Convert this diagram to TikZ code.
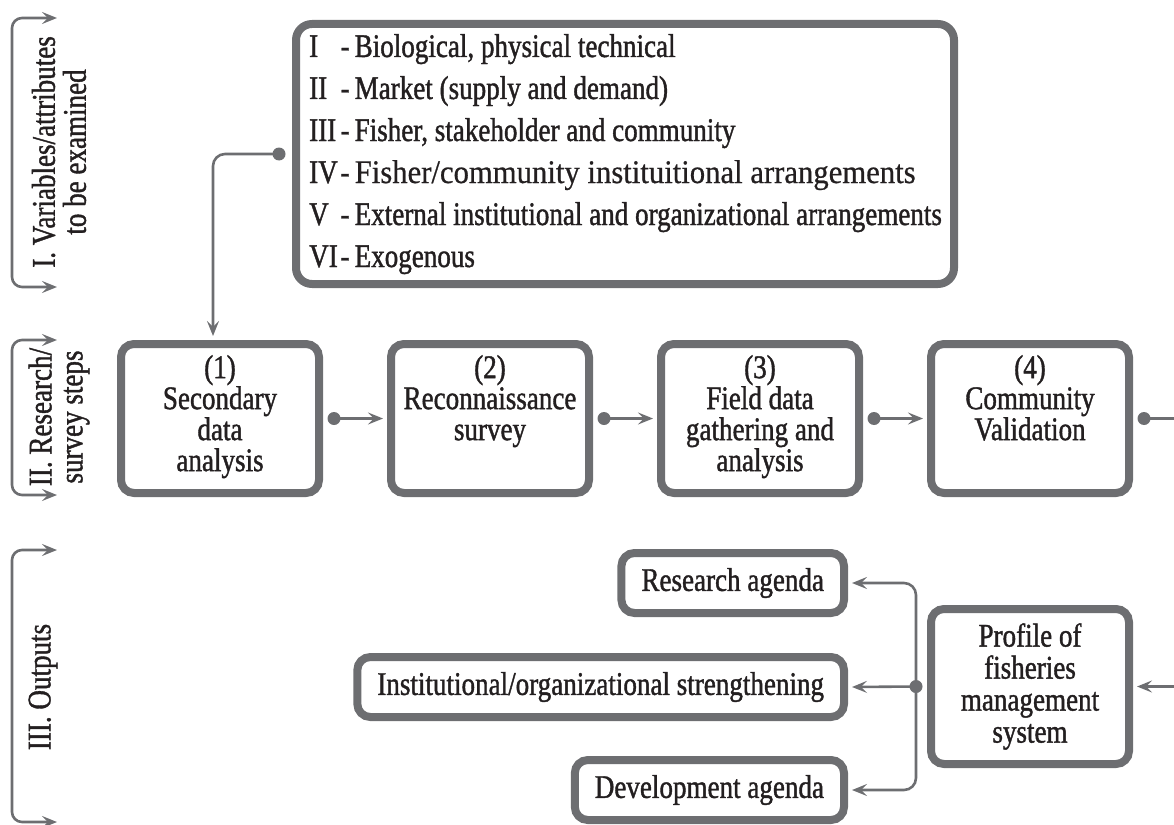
\documentclass[tikz,border=0pt]{standalone}
\usepackage{fontspec}
\setmainfont{Liberation Serif}[FakeStretch=0.82,FakeBold=1.2]
\newfontfamily\widefont{Liberation Serif}[FakeStretch=0.93,FakeBold=0.6]
\usetikzlibrary{arrows.meta,calc}
\definecolor{bordergray}{RGB}{109,110,113}
\definecolor{linegray}{RGB}{109,110,113}
\definecolor{inkcol}{RGB}{35,31,32}
\newcommand{\numlab}[1]{\makebox[31.5pt][l]{#1}-\hspace{5pt}}
\begin{document}
\begin{tikzpicture}[x=1pt,y=-1pt,
  frame/.style={draw=bordergray, line width=8pt, rounded corners=13pt, fill=white, inner sep=0pt},
  conn/.style={draw=linegray, line width=2.6pt, rounded corners=12pt},
  arr/.style={-{Stealth[length=15pt,width=12pt,inset=6pt]}},
  barr/.style={{Stealth[length=15pt,width=12pt,inset=6pt]}-{Stealth[length=15pt,width=12pt,inset=6pt]}},
  txt/.style={text=inkcol, font=\fontsize{33}{31}\selectfont, inner sep=0pt},
  dot/.style={fill=linegray}
]
\useasboundingbox (0,0) rectangle (1174,824);

% ---- left brackets and labels
\coordinate (b1t) at (57,18);  \coordinate (b1b) at (57,287);
\coordinate (b2t) at (57,340); \coordinate (b2b) at (57,495);
\coordinate (b3t) at (57,550); \coordinate (b3b) at (57,822);
\draw[conn, barr, rounded corners=10pt] (b1t) -- (12,18) -- (12,287) -- (b1b);
\draw[conn, barr, rounded corners=10pt] (b2t) -- (12,340) -- (12,495) -- (b2b);
\draw[conn, barr, rounded corners=10pt] (b3t) -- (12,550) -- (12,822) -- (b3b);
\node[txt, rotate=90, align=center] (lab1) at (59,152) {I. Variables/attributes\\to be examined};
\node[txt, rotate=90, align=center] (lab2) at (59,417) {II. Research/\\survey steps};
\node[txt, rotate=90, align=center] (lab3) at (43,687) {III. Outputs};

% ---- variables box
\node[frame, rounded corners=16pt, minimum width=658pt, minimum height=260pt] (vars) at (625,154) {};
\node[txt, anchor=base west] (v1) at (309,57)  {\numlab{I}Biological, physical technical};
\node[txt, anchor=base west] (v2) at (309,99)  {\numlab{II}Market (supply and demand)};
\node[txt, anchor=base west] (v3) at (309,141) {\numlab{III}Fisher, stakeholder and community};
\node[txt, anchor=base west] (v4) at (309,183) {\numlab{IV}{\widefont Fisher/community instituitional arrangements}};
\node[txt, anchor=base west] (v5) at (309,225) {\numlab{V}External institutional and organizational arrangements};
\node[txt, anchor=base west] (v6) at (309,267) {\numlab{VI}Exogenous};

% ---- research steps
\foreach \n/\cx in {1/220,2/490,3/760,4/1030}{
  \node[frame, minimum width=198pt, minimum height=149pt] (s\n) at (\cx,418.5) {};
}
\node[txt, align=center, anchor=north] (s1t) at ([yshift=-15pt]s1.north) {(1)\\Secondary\\data\\analysis};
\node[txt, align=center, anchor=north] (s2t) at ([yshift=-15pt]s2.north) {(2)\\Reconnaissance\\survey};
\node[txt, align=center, anchor=north] (s3t) at ([yshift=-15pt]s3.north) {(3)\\Field data\\gathering and\\analysis};
\node[txt, align=center, anchor=north] (s4t) at ([yshift=-15pt]s4.north) {(4)\\Community\\Validation};

% ---- outputs
\node[frame, minimum width=198pt, minimum height=155pt] (prof) at (1030,686.5) {};
\node[txt, align=center, font=\fontsize{33}{32}\selectfont] (proft) at (prof.center) {Profile of\\fisheries\\management\\system};
\node[txt, frame, anchor=east, minimum height=60pt, inner xsep=20pt] (res) at (848,583) {Research agenda};
\node[txt, frame, anchor=east, minimum height=60pt, inner xsep=20pt] (inst) at (848,687) {Institutional/organizational strengthening};
\node[txt, frame, anchor=east, minimum height=60pt, inner xsep=20pt] (dev) at (848,790) {Development agenda};

% ---- connectors
\coordinate (vdot) at ([xshift=-13pt]vars.west);
\coordinate (s1in) at ([xshift=-7pt,yshift=4pt]s1.north);
\draw[conn, arr] (vdot) -| (s1in);
\fill[dot] (vdot) circle (6.5pt);

\foreach \a/\b in {1/2,2/3,3/4}{
  \draw[conn, arr] ([xshift=11pt]s\a.east) -- ([xshift=-4pt]s\b.west);
  \fill[dot] ([xshift=11pt]s\a.east) circle (6.5pt);
}
\coordinate (s4out) at ([xshift=11pt]s4.east);
\draw[conn, arr] (s4out) -- ++(50,0) |- ([xshift=4pt]prof.east);
\fill[dot] (s4out) circle (6.5pt);

\coordinate (pdot) at ([xshift=-11pt]prof.west);
\draw[conn, arr] (pdot) |- ([xshift=4pt]res.east);
\draw[conn, arr] (pdot) -- ([xshift=4pt]inst.east);
\draw[conn, arr] (pdot) |- ([xshift=4pt]dev.east);
\fill[dot] (pdot) circle (6.5pt);
\end{tikzpicture}
\end{document}
